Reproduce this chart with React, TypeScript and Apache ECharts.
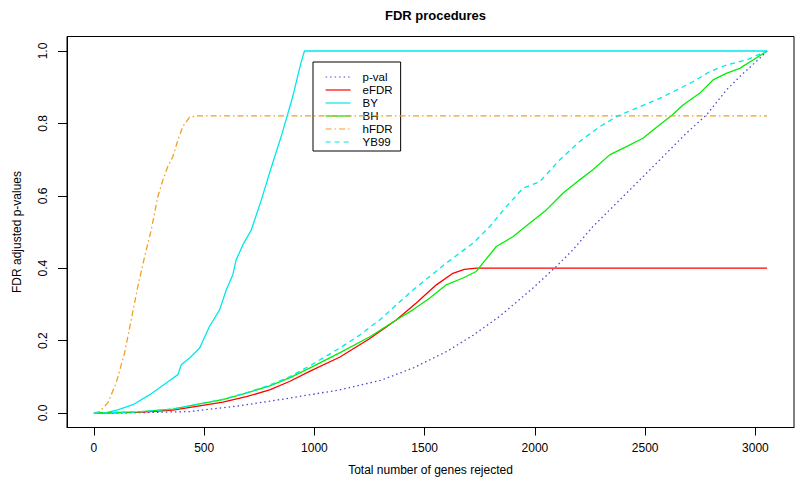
import React, { useEffect, useRef } from "react";
import * as echarts from "echarts";

// ---- Data ----
const xTicks = [0, 500, 1000, 1500, 2000, 2500, 3000];
const yTicks = [0, 0.2, 0.4, 0.6, 0.8, 1.0];
const nGenes = 3053;

const pvalData: [number, number][] = [
  [0, 0], [200, 0.001], [434, 0.004], [660, 0.02], [887, 0.041], [1114, 0.064],
  [1300, 0.09], [1450, 0.125], [1600, 0.17], [1720, 0.215], [1840, 0.267],
  [1991, 0.345], [2097, 0.405], [2173, 0.451], [2263, 0.515], [2415, 0.607],
  [2566, 0.699], [2687, 0.773], [2778, 0.823], [2868, 0.892], [2944, 0.938],
  [3020, 0.98], [3053, 1.0],
];

const efdrData: [number, number][] = [
  [0, 0], [200, 0.002], [358, 0.008], [479, 0.02], [585, 0.03], [691, 0.045],
  [797, 0.064], [887, 0.087], [978, 0.115], [1114, 0.154], [1250, 0.205],
  [1371, 0.257], [1462, 0.304], [1553, 0.354], [1628, 0.386], [1680, 0.397],
  [1734, 0.4], [3053, 0.4],
];

const byData: [number, number][] = [
  [0, 0], [60, 0.002], [108, 0.009], [177, 0.023], [252, 0.05], [328, 0.083],
  [381, 0.106], [396, 0.133], [434, 0.152], [479, 0.179], [524, 0.239],
  [570, 0.285], [600, 0.34], [630, 0.382], [645, 0.423], [676, 0.465],
  [714, 0.506], [760, 0.59], [800, 0.67], [850, 0.765], [900, 0.87],
  [940, 0.97], [955, 1.0], [3053, 1.0],
];

const bhData: [number, number][] = [
  [0, 0], [200, 0.003], [358, 0.011], [479, 0.025], [585, 0.037], [691, 0.055],
  [797, 0.075], [887, 0.097], [978, 0.124], [1114, 0.166], [1250, 0.21],
  [1371, 0.257], [1447, 0.285], [1522, 0.317], [1598, 0.354], [1674, 0.373],
  [1734, 0.391], [1764, 0.414], [1825, 0.46], [1900, 0.487], [1976, 0.524],
  [2052, 0.561], [2127, 0.607], [2203, 0.644], [2263, 0.672], [2339, 0.713],
  [2415, 0.736], [2490, 0.759], [2566, 0.796], [2619, 0.821], [2672, 0.851],
  [2747, 0.883], [2808, 0.92], [2868, 0.938], [2929, 0.952], [2989, 0.975],
  [3053, 1.0],
];

const hfdrData: [number, number][] = [
  [0, 0], [25, 0.004], [63, 0.028], [101, 0.083], [139, 0.166], [169, 0.257],
  [199, 0.349], [230, 0.432], [260, 0.506], [290, 0.598], [313, 0.644],
  [335, 0.681], [358, 0.708], [381, 0.754], [403, 0.791], [434, 0.817],
  [464, 0.821], [3053, 0.821],
];

const yb99Data: [number, number][] = [
  [0, 0], [200, 0.003], [358, 0.011], [479, 0.025], [585, 0.038], [691, 0.056],
  [797, 0.077], [887, 0.1], [978, 0.13], [1114, 0.179], [1200, 0.213],
  [1296, 0.257], [1447, 0.34], [1598, 0.414], [1719, 0.469], [1795, 0.515],
  [1870, 0.57], [1946, 0.621], [2022, 0.639], [2112, 0.699], [2203, 0.75],
  [2294, 0.791], [2377, 0.821], [2475, 0.846], [2566, 0.869], [2642, 0.892],
  [2717, 0.915], [2793, 0.943], [2868, 0.961], [2959, 0.975], [3053, 1.0],
];

const seriesNames = ["p-val", "eFDR", "BY", "BH", "hFDR", "YB99"];
const seriesData = [pvalData, efdrData, byData, bhData, hfdrData, yb99Data];
const seriesColors = ["#4a4ad8", "#ff0000", "#00e8e8", "#00ee00", "#f0a020", "#00e8e8"];
const seriesDash: any[] = [[1.5, 3], "solid", "solid", "solid", [6, 3, 1.5, 3], [5, 4]];

const FONT = "'Liberation Sans', Arial, Helvetica, sans-serif";

export default function App() {
  const ref = useRef<HTMLDivElement>(null);

  useEffect(() => {
    if (!ref.current) return;
    const chart = echarts.init(ref.current, null, { renderer: "svg" });

    // plot box (R style: data range extended by 4% on each side)
    const boxLeft = 67;
    const boxRight = 6;
    const boxTop = 36.5;
    const boxBottom = 56.5;
    const W = 800;
    const H = 484;
    const xPad = nGenes * 0.04;
    const yPad = 0.04;

    chart.setOption({
      animation: false,
      backgroundColor: "#ffffff",
      title: {
        text: "FDR procedures",
        left: boxLeft + (W - boxLeft - boxRight) / 2,
        textAlign: "center",
        top: 4,
        textStyle: { fontFamily: FONT, fontSize: 13, fontWeight: "bold", color: "#000" },
      },
      grid: { left: boxLeft, right: boxRight, top: boxTop, bottom: boxBottom },
      legend: {
        orient: "vertical",
        left: 313,
        top: 62,
        padding: [9, 8, 3, 12],
        borderColor: "#000",
        borderWidth: 1,
        itemWidth: 25,
        itemHeight: 11,
        itemGap: 1,
        data: seriesNames,
        itemStyle: { opacity: 0 },
        lineStyle: { width: 1.2 },
        textStyle: { fontFamily: FONT, fontSize: 11.5, color: "#000", padding: [0, 0, 0, 7] },
      },
      xAxis: {
        type: "value",
        min: -xPad,
        max: nGenes + xPad,
        name: "Total number of genes rejected",
        nameLocation: "middle",
        nameGap: 36,
        nameTextStyle: { fontFamily: FONT, fontSize: 12, color: "#000" },
        axisLine: { show: true, onZero: false, lineStyle: { color: "#000", width: 1 } },
        splitLine: { show: false },
        axisTick: {
          show: true,
          length: 8,
          customValues: xTicks,
          lineStyle: { color: "#000", width: 1 },
        },
        axisLabel: {
          customValues: xTicks,
          margin: 14,
          fontFamily: FONT,
          fontSize: 12,
          color: "#000",
          formatter: (v: number) => String(v),
        },
      },
      yAxis: {
        type: "value",
        min: -yPad,
        max: 1 + yPad,
        name: "FDR adjusted p-values",
        nameLocation: "middle",
        nameGap: 44,
        nameTextStyle: { fontFamily: FONT, fontSize: 12, color: "#000" },
        axisLine: { show: true, onZero: false, lineStyle: { color: "#000", width: 1 } },
        splitLine: { show: false },
        axisTick: {
          show: true,
          length: 9,
          customValues: yTicks,
          lineStyle: { color: "#000", width: 1 },
        },
        axisLabel: {
          customValues: yTicks,
          rotate: 90,
          margin: 18,
          fontFamily: FONT,
          fontSize: 12,
          color: "#000",
          formatter: (v: number) => v.toFixed(1),
        },
      },
      graphic: [
        {
          type: "rect",
          silent: true,
          shape: {
            x: boxLeft,
            y: boxTop,
            width: W - boxLeft - boxRight,
            height: H - boxTop - boxBottom,
          },
          style: { fill: "none", stroke: "#000", lineWidth: 1 },
          z: 10,
        },
      ],
      series: seriesNames.map((name, i) => ({
        name,
        type: "line",
        data: seriesData[i],
        symbol: "none",
        showSymbol: false,
        smooth: false,
        color: seriesColors[i],
        lineStyle: { color: seriesColors[i], width: 1.3, type: seriesDash[i] },
        z: 2 + i,
      })),
    });

    return () => chart.dispose();
  }, []);

  return (
    <div
      ref={ref}
      style={{ position: "absolute", left: 0, top: 0, width: 800, height: 484 }}
    />
  );
}
